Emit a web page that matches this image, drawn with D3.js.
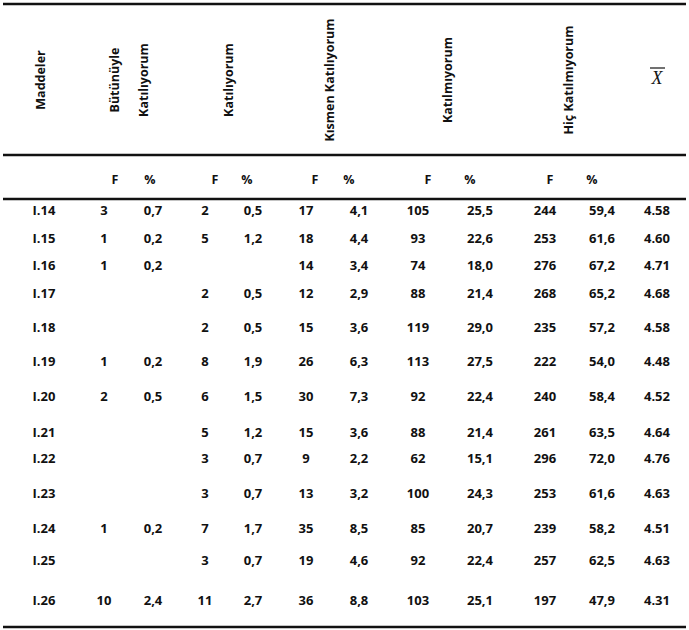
<!DOCTYPE html>
<html lang="tr">
<head>
<meta charset="utf-8">
<title>Maddeler tablosu</title>
<script src="https://d3js.org/d3.v7.min.js"></script>
<style>
    body { margin: 0; background: #fff; }
    text { font-family: "Open Sans", Lato, sans-serif; font-weight: bold; fill: #111; }
    .rule { stroke: #111; stroke-width: 2.4; }
</style>
</head>
<body>
<svg width="689" height="630"></svg>
<script>
// table data
const items = ['I.14','I.15','I.16','I.17','I.18','I.19','I.20','I.21','I.22','I.23','I.24','I.25','I.26'];
const butunuyleF = [3, 1, 1, null, null, 1, 2, null, null, null, 1, null, 10];
const butunuyleP = ['0,7','0,2','0,2', null, null,'0,2','0,5', null, null, null,'0,2', null,'2,4'];
const katiliyorumF = [2, 5, null, 2, 2, 8, 6, 5, 3, 3, 7, 3, 11];
const katiliyorumP = ['0,5','1,2', null,'0,5','0,5','1,9','1,5','1,2','0,7','0,7','1,7','0,7','2,7'];
const kismenF = [17, 18, 14, 12, 15, 26, 30, 15, 9, 13, 35, 19, 36];
const kismenP = ['4,1','4,4','3,4','2,9','3,6','6,3','7,3','3,6','2,2','3,2','8,5','4,6','8,8'];
const katilmiyorumF = [105, 93, 74, 88, 119, 113, 92, 88, 62, 100, 85, 92, 103];
const katilmiyorumP = ['25,5','22,6','18,0','21,4','29,0','27,5','22,4','21,4','15,1','24,3','20,7','22,4','25,1'];
const hicF = [244, 253, 276, 268, 235, 222, 240, 261, 296, 253, 239, 257, 197];
const hicP = ['59,4','61,6','67,2','65,2','57,2','54,0','58,4','63,5','72,0','61,6','58,2','62,5','47,9'];
const means = ['4.58','4.60','4.71','4.68','4.58','4.48','4.52','4.64','4.76','4.63','4.51','4.63','4.31'];

// header labels (rotated), lines per column
const headers = [
    {lines: ['Maddeler'], x: 41},
    {lines: ['Bütünüyle', 'Katılıyorum'], x: 129},
    {lines: ['Katılıyorum'], x: 229},
    {lines: ['Kısmen Katılıyorum'], x: 330},
    {lines: ['Katılmıyorum'], x: 448},
    {lines: ['Hiç Katılmıyorum'], x: 569}
];

// layout
const colX = [44, 104, 153, 205, 253, 306, 359, 418, 480, 545, 602, 657];
const subX = [[115, 150], [215, 247], [315, 349], [428, 470], [550, 592]];
const rowGaps = [28, 27, 28, 34, 34, 35, 36, 26, 35, 35, 32, 40];
const firstRowY = 210;

const svg = d3.select('svg');

// horizontal rules
const rules = [4, 155, 199, 627];
svg.selectAll('line.rule')
    .data(rules)
    .join('line')
    .attr('class', 'rule')
    .attr('x1', 3).attr('x2', 686)
    .attr('y1', d => d).attr('y2', d => d);

// rotated header labels
const headG = svg.append('g');
headers.forEach(h => {
    const n = h.lines.length;
    h.lines.forEach((t, i) => {
        const x = h.x + (i - (n - 1) / 2) * 29;
        headG.append('text')
            .attr('transform', `translate(${x},80) rotate(-90)`)
            .attr('text-anchor', 'middle')
            .attr('dy', '0.35em')
            .style('font-size', '12.5px')
            .text(t);
    });
});

// mean symbol X with bar
svg.append('text')
    .attr('x', 657).attr('y', 84)
    .attr('text-anchor', 'middle')
    .style('font-family', '"Liberation Serif", "DejaVu Serif", serif')
    .style('font-weight', 'normal')
    .style('font-style', 'italic')
    .style('font-size', '18px')
    .text('X');
svg.append('line')
    .attr('x1', 650).attr('x2', 665)
    .attr('y1', 68).attr('y2', 68)
    .attr('stroke', '#111').attr('stroke-width', 1.2);

// F / % subheader
const subs = subX.flatMap(p => [{x: p[0], t: 'F'}, {x: p[1], t: '%'}]);
svg.selectAll('text.sub')
    .data(subs)
    .join('text')
    .attr('class', 'sub')
    .attr('x', d => d.x).attr('y', 180)
    .attr('text-anchor', 'middle')
    .attr('dy', '0.35em')
    .style('font-size', '12.5px')
    .text(d => d.t);

// rows
const rowY = [firstRowY];
rowGaps.forEach((g, i) => rowY.push(rowY[i] + g));

const columns = [items, butunuyleF, butunuyleP, katiliyorumF, katiliyorumP,
    kismenF, kismenP, katilmiyorumF, katilmiyorumP, hicF, hicP, means];

const cells = [];
items.forEach((_, r) => {
    columns.forEach((col, c) => {
        if (col[r] !== null) cells.push({r, c, v: col[r]});
    });
});

svg.selectAll('text.cell')
    .data(cells)
    .join('text')
    .attr('class', 'cell')
    .attr('x', d => colX[d.c])
    .attr('y', d => rowY[d.r])
    .attr('text-anchor', 'middle')
    .attr('dy', '0.35em')
    .style('font-size', '13px')
    .text(d => d.v);
</script>
</body>
</html>
